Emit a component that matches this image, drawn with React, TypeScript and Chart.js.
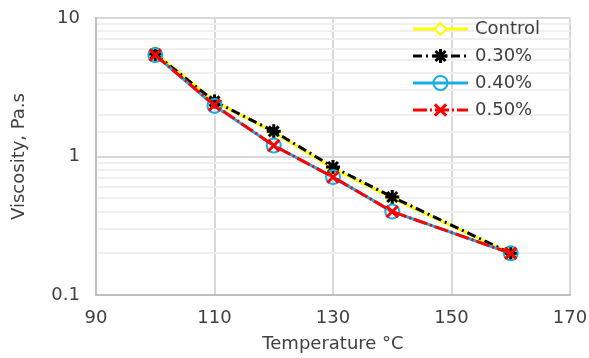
import React, { useEffect, useRef } from "react";
import { Chart, registerables } from "chart.js";
import { drawPoint } from "chart.js/helpers";

Chart.register(...registerables);

const temperatures = [100, 110, 120, 130, 140, 160];
const seriesNames = ["Control", "0.30%", "0.40%", "0.50%"];
const control = [5.6, 2.5, 1.5, 0.82, 0.5, 0.2];
const pct030 = [5.5, 2.5, 1.52, 0.84, 0.51, 0.2];
const pct040 = [5.4, 2.32, 1.2, 0.71, 0.4, 0.2];
const pct050 = [5.4, 2.35, 1.2, 0.71, 0.4, 0.2];
const xTicks = [90, 110, 130, 150, 170];
const yTicks = [0.1, 1, 10];

const FONT = "'DejaVu Sans', sans-serif";
const TEXT = "#404040";

const legendPlugin = {
  id: "customLegend",
  afterDraw(chart: any) {
    const ctx = chart.ctx;
    const x0 = 413, x1 = 468, tx = 475, y0 = 29, dy = 27;
    chart.data.datasets.forEach((ds: any, i: number) => {
      const y = y0 + i * dy;
      ctx.save();
      ctx.strokeStyle = ds.borderColor;
      ctx.lineWidth = ds.borderWidth;
      ctx.setLineDash(ds.borderDash || []);
      ctx.beginPath();
      ctx.moveTo(x0, y);
      ctx.lineTo(x1, y);
      ctx.stroke();
      ctx.setLineDash([]);
      ctx.strokeStyle = ds.pointBorderColor;
      ctx.fillStyle = ds.pointBackgroundColor;
      ctx.lineWidth = ds.pointBorderWidth;
      drawPoint(ctx, {
        pointStyle: ds.pointStyle,
        radius: ds.pointRadius,
        borderWidth: ds.pointBorderWidth,
        rotation: 0,
      } as any, (x0 + x1) / 2, y);
      ctx.restore();
      ctx.save();
      ctx.fillStyle = TEXT;
      ctx.font = `18px ${FONT}`;
      ctx.textBaseline = "middle";
      ctx.fillText(seriesNames[i], tx, y);
      ctx.restore();
    });
  },
};

const isMajor = (v: number) =>
  Math.abs(Math.log10(v) - Math.round(Math.log10(v))) < 1e-9;

export default function App() {
  const ref = useRef<HTMLCanvasElement>(null);
  useEffect(() => {
    document.body.style.margin = "0";
    const mk = (vals: number[]) => temperatures.map((t, i) => ({ x: t, y: vals[i] }));
    const chart = new Chart(ref.current!, {
      type: "line",
      data: {
        datasets: [
          {
            label: seriesNames[0],
            data: mk(control),
            borderColor: "#FFFF00",
            backgroundColor: "#FFFF00",
            borderWidth: 3,
            borderDash: [],
            pointStyle: "rectRot",
            pointRadius: 6,
            pointBorderWidth: 2,
            pointBorderColor: "#FFFF00",
            pointBackgroundColor: "#ffffff",
            order: 3,
          },
          {
            label: seriesNames[1],
            data: mk(pct030),
            borderColor: "#000000",
            backgroundColor: "#000000",
            borderWidth: 3,
            borderDash: [9, 4, 2, 4],
            pointStyle: "star",
            pointRadius: 7,
            pointBorderWidth: 3,
            pointBorderColor: "#000000",
            pointBackgroundColor: "#000000",
            order: 2,
          },
          {
            label: seriesNames[2],
            data: mk(pct040),
            borderColor: "#1CADE4",
            backgroundColor: "#1CADE4",
            borderWidth: 3,
            borderDash: [],
            pointStyle: "circle",
            pointRadius: 7,
            pointBorderWidth: 2,
            pointBorderColor: "#1CADE4",
            pointBackgroundColor: "rgba(255,255,255,0)",
            order: 1,
          },
          {
            label: seriesNames[3],
            data: mk(pct050),
            borderColor: "#FF0000",
            backgroundColor: "#FF0000",
            borderWidth: 3,
            borderDash: [14, 3, 2, 3],
            pointStyle: "crossRot",
            pointRadius: 8,
            pointBorderWidth: 3,
            pointBorderColor: "#FF0000",
            pointBackgroundColor: "#FF0000",
            order: 0,
          },
        ],
      } as any,
      options: {
        animation: false,
        responsive: false,
        maintainAspectRatio: false,
        layout: { padding: { left: 0, right: 19, top: 18, bottom: 0 } },
        plugins: {
          legend: { display: false },
          tooltip: { enabled: false },
        },
        scales: {
          x: {
            type: "linear",
            min: 90,
            max: 170,
            afterBuildTicks: (s: any) => {
              s.ticks = xTicks.map((v) => ({ value: v }));
            },
            afterFit: (s: any) => {
              s.height = 358 - 295;
              s.paddingLeft = 0;
              s.paddingRight = 0;
            },
            grid: { color: "#D9D9D9", lineWidth: 2, drawTicks: false },
            border: { color: "#BFBFBF", width: 2 },
            ticks: { color: TEXT, font: { family: FONT, size: 18 }, padding: 13 },
            title: {
              display: true,
              text: "Temperature °C",
              color: TEXT,
              font: { family: FONT, size: 18 },
              padding: { top: 0, bottom: 3 },
            },
          },
          y: {
            type: "logarithmic",
            min: 0.1,
            max: 10,
            afterFit: (s: any) => {
              s.width = 96;
              s.paddingTop = 0;
              s.paddingBottom = 0;
            },
            grid: {
              drawTicks: false,
              color: (c: any) => (c.tick && isMajor(c.tick.value) ? "#D9D9D9" : "#EFEFEF"),
              lineWidth: 2,
            },
            border: { color: "#BFBFBF", width: 2 },
            ticks: {
              color: TEXT,
              font: { family: FONT, size: 18 },
              padding: 16,
              autoSkip: false,
              callback: (v: any) => {
                const n = Number(v);
                return yTicks.some((t) => Math.abs(t - n) < 1e-9) ? String(n) : "";
              },
            },
            title: {
              display: true,
              text: "Viscosity, Pa.s",
              color: TEXT,
              font: { family: FONT, size: 18 },
              padding: { top: 9, bottom: 0 },
            },
          },
        },
      } as any,
      plugins: [legendPlugin],
    });
    return () => chart.destroy();
  }, []);
  return (
    <div style={{ width: 589, height: 358, background: "#fff" }}>
      <canvas ref={ref} width={589} height={358} />
    </div>
  );
}
